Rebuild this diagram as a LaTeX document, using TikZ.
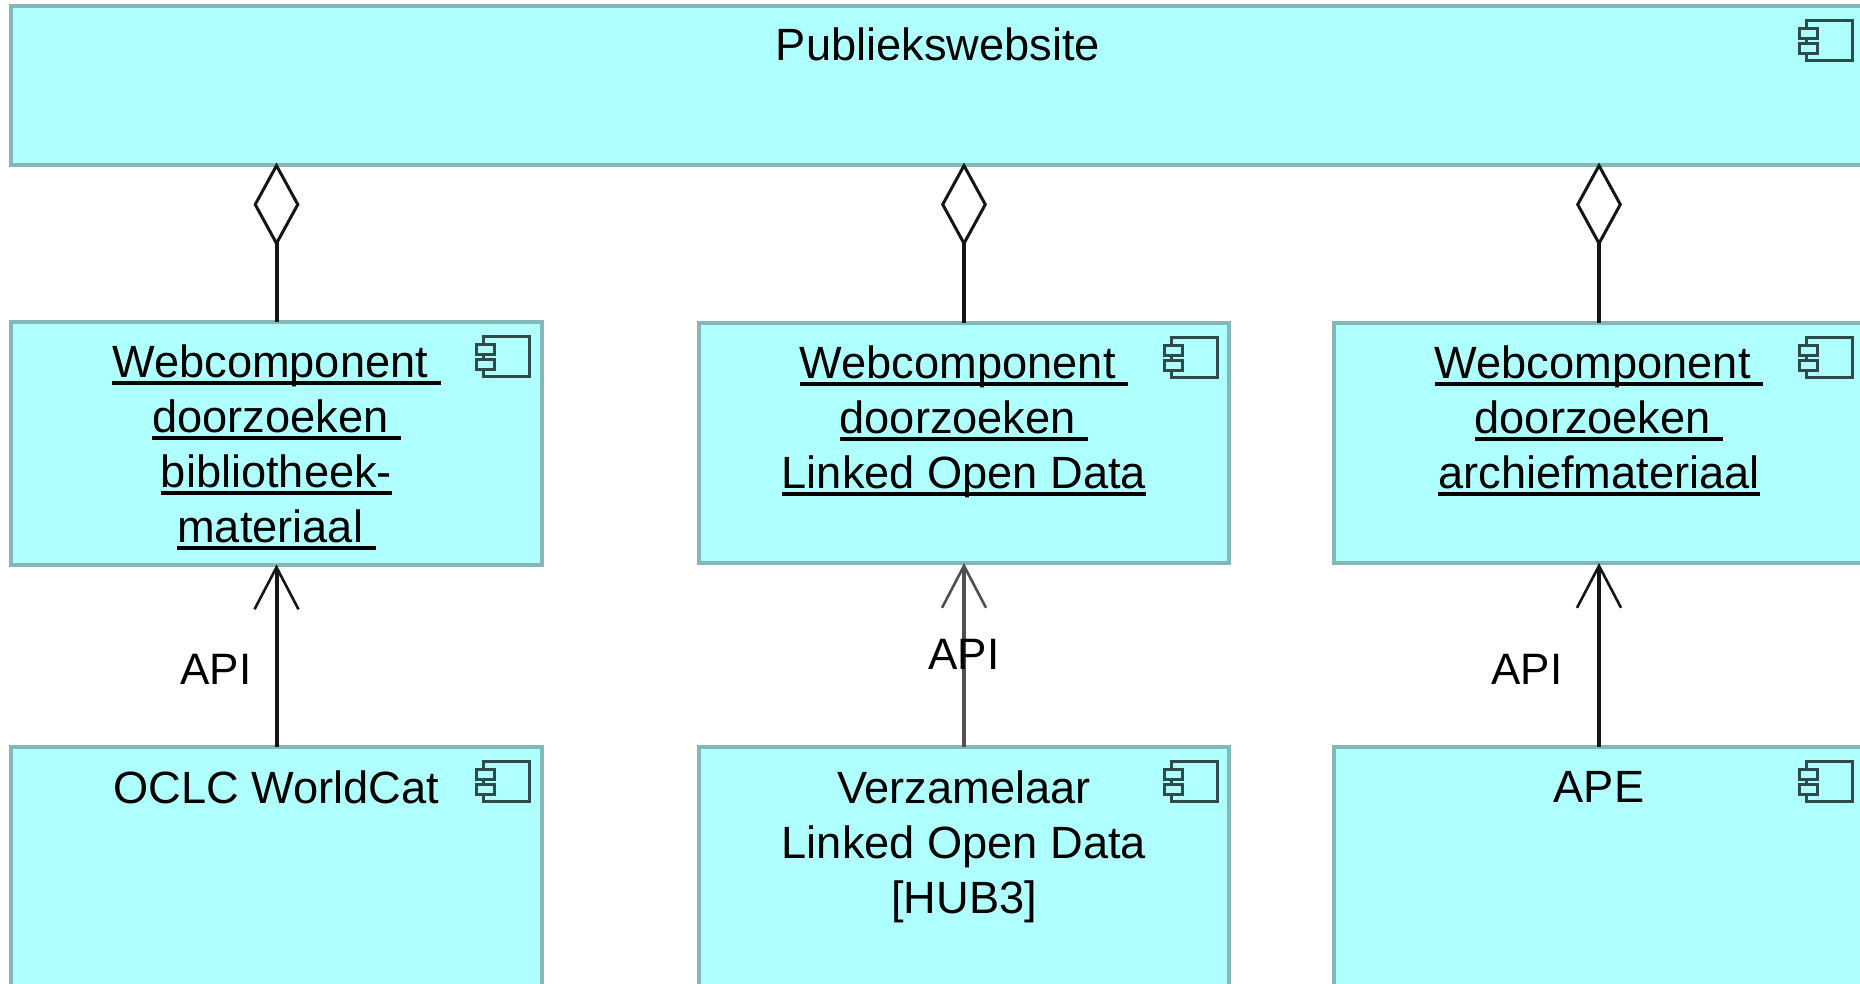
\documentclass[tikz,border=0pt]{standalone}
\usepackage{fontspec}
\setmainfont{Liberation Sans}
\usetikzlibrary{arrows.meta}
\definecolor{boxfill}{HTML}{AFFFFF}
\definecolor{boxedge}{HTML}{84B8B8}
\definecolor{icondark}{HTML}{2F4A4A}
\definecolor{linedark}{HTML}{151515}
\definecolor{linegrey}{HTML}{505050}
\newcommand\ulin[1]{\setbox0=\hbox{#1}\leavevmode\rlap{\rule[-7pt]{\wd0}{3.8pt}}\box0 }
\tikzset{
  x=1pt,y=-1pt,
  compbox/.style={draw=boxedge,fill=boxfill,line width=4pt,inner sep=0pt,outer sep=0pt},
  boxtext/.style={anchor=north,align=center,inner sep=0pt,text=black,font=\fontsize{45.2}{55}\selectfont},
  apilabel/.style={inner sep=0pt,text=black,font=\fontsize{44}{55}\selectfont},
  aggreg/.style={line width=4pt,draw=linedark,{Diamond[open,length=84pt,width=46pt,line width=3pt]}-},
  flow/.style={line width=4pt,draw=linedark,-{Straight Barb[length=42pt,width=44pt,line width=2.6pt]}},
  icoline/.style={draw=icondark,line width=3pt},
  icosmall/.style={draw=icondark,fill=boxfill,line width=3pt},
  pics/compicon/.style={code={
    \draw[icoline] (-46,0) rectangle (0,40);
    \draw[icosmall] (-53,8) rectangle (-35,18);
    \draw[icosmall] (-53,23) rectangle (-35,33);
  }}
}
\begin{document}
\begin{tikzpicture}
\useasboundingbox (0,0) rectangle (1860,984);
\clip (0,0) rectangle (1860,984);

\node[compbox,minimum width=1853pt,minimum height=159pt] (top) at (937.5,86) {};

\node[compbox,minimum width=531pt,minimum height=243pt] (wbib) at (276.5,443) {};
\node[compbox,minimum width=530pt,minimum height=240pt] (wlod) at (964,443) {};
\node[compbox,minimum width=530pt,minimum height=240pt] (warc) at (1599,443) {};

\node[compbox,minimum width=531pt,minimum height=260pt] (oclc) at (276.5,877) {};
\node[compbox,minimum width=530pt,minimum height=260pt] (verz) at (964,877) {};
\node[compbox,minimum width=530pt,minimum height=260pt] (ape) at (1599,877) {};

\node[boxtext] (ttop) at (938,28) {Publiekswebsite};
\node[boxtext] (tbib) at (276.5,345) {\ulin{Webcomponent\ }\\\ulin{doorzoeken\ }\\\ulin{bibliotheek-}\\\ulin{materiaal\ }};
\node[boxtext] (tlod) at (964,346) {\ulin{Webcomponent\ }\\\ulin{doorzoeken\ }\\\ulin{Linked Open Data}};
\node[boxtext] (tarc) at (1599,346) {\ulin{Webcomponent\ }\\\ulin{doorzoeken\ }\\\ulin{archiefmateriaal}};
\node[boxtext] (toclc) at (276.5,771) {OCLC WorldCat};
\node[boxtext] (tverz) at (964,771) {Verzamelaar\\Linked Open Data\\{}[HUB3]};
\node[boxtext] (tape) at (1599,771) {APE};

\path (top.north east) ++(-12,14) pic {compicon};
\path (wbib.north east) ++(-13,15) pic {compicon};
\path (wlod.north east) ++(-12,14) pic {compicon};
\path (warc.north east) ++(-12,14) pic {compicon};
\path (oclc.north east) ++(-13,14) pic {compicon};
\path (verz.north east) ++(-12,14) pic {compicon};
\path (ape.north east) ++(-12,14) pic {compicon};

\draw[aggreg] ([yshift=3pt]wbib.north |- top.south) -- (wbib.north);
\draw[aggreg] ([yshift=3pt]wlod.north |- top.south) -- (wlod.north);
\draw[aggreg] ([yshift=3pt]warc.north |- top.south) -- (warc.north);

\draw[flow] (oclc.north) -- (wbib.south);
\draw[flow,draw=linegrey] (verz.north) -- (wlod.south);
\draw[flow] (ape.north) -- (warc.south);

\node[apilabel] (a1) at (216,669) {API};
\node[apilabel] (a2) at (964,654) {API};
\node[apilabel] (a3) at (1527,669) {API};
\end{tikzpicture}
\end{document}
